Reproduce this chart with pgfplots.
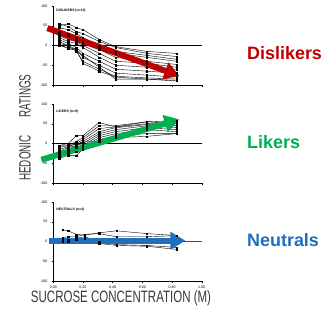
\documentclass[border=0pt]{standalone}
\usepackage{pgfplots}
\pgfplotsset{compat=1.18}
\usepackage{fontspec}
\setmainfont{Liberation Sans}
\usepackage{graphicx}
\usetikzlibrary{arrows.meta}

\definecolor{dred}{HTML}{C00000}
\definecolor{dgreen}{HTML}{00B050}
\definecolor{dblue}{HTML}{1F6FBF}
\definecolor{lab}{HTML}{3A3A3A}

\pgfplotsset{
 panel/.style={
  scale only axis, width=148.4bp, height=79bp,
  xmin=0, xmax=1, ymin=-100, ymax=100,
  axis x line*=bottom, axis y line*=left,
  axis line style={black, line width=0.5pt},
  xtick={0,0.2,0.4,0.6,0.8,1.0}, ytick={-100,-50,0,50,100},
  tick align=outside, major tick length=1.8bp,
  tick style={black, line width=0.4pt},
  ticklabel style={font=\fontsize{3.6}{4}\selectfont},
  yticklabel style={xshift=-0.5bp},
  /pgf/number format/assume math mode=true,
  clip=false,
  anchor=south west,
 },
 dat/.style={black, solid, line width=0.4pt, mark=square*, mark size=0.65pt, mark options={solid, fill=black}},
}

\begin{document}
\begin{tikzpicture}
\path[use as bounding box] (0,0) rectangle (328bp,313bp);

% ---------- Dislikers ----------
\begin{axis}[panel, at={(53.3bp,228bp)}, xticklabels={}]
\draw[black, line width=0.5pt] (axis cs:0,0) -- (axis cs:1,0);
\addplot[dat] coordinates {(0.04,50) (0.10,55) (0.155,45) (0.20,40) (0.31,15) (0.42,-3) (0.63,-15) (0.83,-20)};
\addplot[dat] coordinates {(0.04,55) (0.10,48) (0.155,35) (0.20,30) (0.31,10) (0.42,-5) (0.63,-20) (0.83,-28)};
\addplot[dat] coordinates {(0.04,45) (0.10,40) (0.155,30) (0.20,20) (0.31,0) (0.42,-15) (0.63,-25) (0.83,-35)};
\addplot[dat] coordinates {(0.04,35) (0.10,30) (0.155,20) (0.20,10) (0.31,-5) (0.42,-20) (0.63,-30) (0.83,-40)};
\addplot[dat] coordinates {(0.04,30) (0.10,25) (0.155,15) (0.20,5) (0.31,-10) (0.42,-30) (0.63,-40) (0.83,-48)};
\addplot[dat] coordinates {(0.04,25) (0.10,15) (0.155,10) (0.20,0) (0.31,-20) (0.42,-40) (0.63,-45) (0.83,-55)};
\addplot[dat] coordinates {(0.04,20) (0.10,10) (0.155,5) (0.20,-5) (0.31,-30) (0.42,-50) (0.63,-55) (0.83,-60)};
\addplot[dat] coordinates {(0.04,15) (0.10,5) (0.155,-5) (0.20,-20) (0.31,-40) (0.42,-60) (0.63,-65) (0.83,-70)};
\addplot[dat] coordinates {(0.04,10) (0.10,0) (0.155,-10) (0.20,-30) (0.31,-50) (0.42,-70) (0.63,-75) (0.83,-80)};
\addplot[dat] coordinates {(0.04,5) (0.10,0) (0.155,-15) (0.20,-40) (0.31,-60) (0.42,-78) (0.63,-82) (0.83,-85)};
\addplot[dat] coordinates {(0.04,0) (0.10,-5) (0.155,-10) (0.20,-45) (0.31,-65) (0.42,-80) (0.63,-85) (0.83,-88)};
\addplot[dat] coordinates {(0.04,2) (0.10,-8) (0.155,-12) (0.20,-25) (0.31,-55) (0.42,-85) (0.63,-85) (0.83,-90)};
\node[anchor=west, font=\fontsize{3.4}{4}\selectfont\bfseries, inner sep=0pt] at (axis cs:0.02,88) {DISLIKERS (n=12)};
\draw[dred, line width=6bp, -{Triangle[length=15bp,width=17bp]}] (axis cs:-0.04,44) -- (axis cs:0.85,-77);
\end{axis}

% ---------- Likers ----------
\begin{axis}[panel, at={(53.3bp,130bp)}, xticklabels={}]
\draw[black, line width=0.5pt] (axis cs:0,0) -- (axis cs:1,0);
\addplot[dat] coordinates {(0.04,-5) (0.10,0) (0.155,20) (0.20,20) (0.31,53) (0.42,42) (0.63,55) (0.83,58)};
\addplot[dat] coordinates {(0.04,-10) (0.10,-5) (0.155,5) (0.20,15) (0.31,45) (0.42,45) (0.63,55) (0.83,50)};
\addplot[dat] coordinates {(0.04,-15) (0.10,-8) (0.155,0) (0.20,10) (0.31,38) (0.42,42) (0.63,50) (0.83,55)};
\addplot[dat] coordinates {(0.04,-20) (0.10,-10) (0.155,-5) (0.20,5) (0.31,30) (0.42,40) (0.63,48) (0.83,45)};
\addplot[dat] coordinates {(0.04,-25) (0.10,-15) (0.155,-5) (0.20,0) (0.31,25) (0.42,35) (0.63,45) (0.83,40)};
\addplot[dat] coordinates {(0.04,-30) (0.10,-20) (0.155,-10) (0.20,-5) (0.31,20) (0.42,30) (0.63,40) (0.83,35)};
\addplot[dat] coordinates {(0.04,-35) (0.10,-25) (0.155,-20) (0.20,-10) (0.31,15) (0.42,25) (0.63,35) (0.83,30)};
\addplot[dat] coordinates {(0.04,-38) (0.10,-30) (0.155,-30) (0.20,-15) (0.31,10) (0.42,20) (0.63,25) (0.83,25)};
\addplot[dat] coordinates {(0.04,-5) (0.10,-5) (0.155,-2) (0.20,5) (0.31,5) (0.42,15) (0.63,18) (0.83,25)};
\node[anchor=west, font=\fontsize{3.4}{4}\selectfont\bfseries, inner sep=0pt] at (axis cs:0.02,80) {LIKERS (n=9)};
\draw[dgreen, line width=6bp, -{Triangle[length=15bp,width=17bp]}] (axis cs:-0.08,-41) -- (axis cs:0.85,61);
\end{axis}

% ---------- Neutrals ----------
\begin{axis}[panel, at={(53.3bp,32bp)},
  xticklabel style={/pgf/number format/.cd, fixed, fixed zerofill, precision=2}]
\draw[black!70, line width=0.5pt] (axis cs:0,0) -- (axis cs:1,0);
\addplot[dat] coordinates {(0.065,29) (0.10,27) (0.155,18) (0.21,16) (0.31,22) (0.425,27) (0.63,20) (0.83,15)};
\addplot[dat] coordinates {(0.065,10) (0.10,12) (0.155,12) (0.21,18) (0.31,20) (0.425,12) (0.63,12) (0.83,15)};
\addplot[dat] coordinates {(0.065,3) (0.10,5) (0.155,8) (0.21,12) (0.31,0) (0.425,-8) (0.63,-10) (0.83,-15)};
\addplot[dat] coordinates {(0.065,0) (0.10,0) (0.155,5) (0.21,8) (0.31,-5) (0.425,-10) (0.63,-12) (0.83,-20)};
\node[anchor=west, font=\fontsize{3.4}{4}\selectfont\bfseries, inner sep=0pt] at (axis cs:0.02,80) {NEUTRALS (n=4)};
\draw[dblue, line width=6bp, -{Triangle[length=15bp,width=17bp]}] (axis cs:-0.03,2) -- (axis cs:0.89,2);
\end{axis}

% ---------- labels ----------
\node[text=lab, font=\fontsize{16.5}{18}\selectfont, inner sep=0pt] at (121bp,15bp) {\scalebox{0.7}[1]{SUCROSE CONCENTRATION (M)}};
\node[text=lab, font=\fontsize{16.5}{18}\selectfont, inner sep=0pt, rotate=90] at (25bp,217bp) {\scalebox{0.6}[1]{RATINGS}};
\node[text=lab, font=\fontsize{16.5}{18}\selectfont, inner sep=0pt, rotate=90] at (25bp,155bp) {\scalebox{0.6}[1]{HEDONIC}};

\node[anchor=west, text=dred, font=\bfseries\fontsize{18}{20}\selectfont, inner sep=0pt] at (247bp,260bp) {Dislikers};
\node[anchor=west, text=dgreen, font=\bfseries\fontsize{18}{20}\selectfont, inner sep=0pt] at (247bp,171bp) {Likers};
\node[anchor=west, text=dblue, font=\bfseries\fontsize{18}{20}\selectfont, inner sep=0pt] at (247bp,73bp) {Neutrals};
\end{tikzpicture}
\end{document}
